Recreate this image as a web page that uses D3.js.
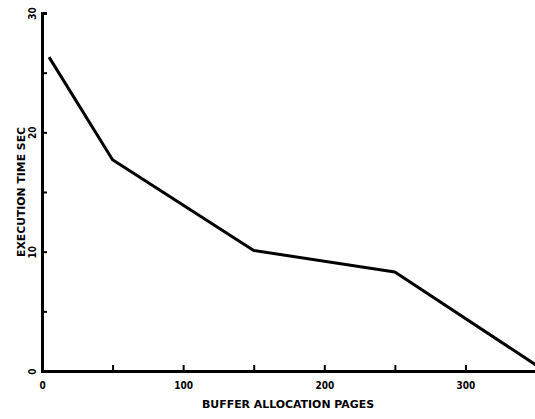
<!DOCTYPE html>
<html>
<head>
<meta charset="utf-8">
<script src="https://cdn.jsdelivr.net/npm/d3@7"></script>
<style>
  html, body { margin: 0; padding: 0; background: #fff; }
  svg { display: block; }
  text { font-family: "Liberation Sans Narrow", "DejaVu Sans Condensed", "Liberation Sans", sans-serif; font-weight: bold; fill: #000; }
</style>
</head>
<body>
<svg id="chart" width="535" height="419"></svg>
<script>
// Data
const bufferPages = [5, 50, 150, 250, 350];
const execTime = [26.3, 17.7, 10.1, 8.3, 0.5];
const xTicks = [0, 50, 100, 150, 200, 250, 300];
const xTickLabels = ["0", "", "100", "", "200", "", "300"];
const yTicks = [0, 5, 10, 15, 20, 25, 30];
const yTickLabels = ["0", "", "10", "", "20", "", "30"];
const xTitle = "BUFFER ALLOCATION PAGES";
const yTitle = "EXECUTION TIME SEC";

const svg = d3.select("#chart");
const x = d3.scaleLinear().domain([0, 350]).range([42, 536]);
const y = d3.scaleLinear().domain([0, 30]).range([371, 13]);

// X axis
const xAxis = d3.axisBottom(x)
  .tickValues(xTicks)
  .tickSize(-6)
  .tickPadding(11)
  .tickFormat((d, i) => xTickLabels[i]);
const gx = svg.append("g").attr("transform", `translate(0,${y(0)})`).call(xAxis);
gx.select(".domain").attr("stroke", "#000").attr("stroke-width", 3);
gx.selectAll(".tick line").attr("stroke", "#000").attr("stroke-width", 2);
gx.selectAll(".tick text").attr("font-size", 10).attr("fill", "#000");

// Y axis
const yAxis = d3.axisLeft(y)
  .tickValues(yTicks)
  .tickSize(-5)
  .tickFormat((d, i) => yTickLabels[i]);
const gy = svg.append("g").attr("transform", `translate(${x(0)},0)`).call(yAxis);
gy.select(".domain").attr("stroke", "#000").attr("stroke-width", 3);
gy.selectAll(".tick line").attr("stroke", "#000").attr("stroke-width", 2);
gy.selectAll(".tick text")
  .attr("x", null)
  .attr("dy", "0.35em")
  .attr("text-anchor", "middle")
  .attr("transform", "translate(-10,0) rotate(-90)")
  .attr("font-size", 10)
  .attr("fill", "#000");

// Line
const line = d3.line().x(d => x(d[0])).y(d => y(d[1]));
svg.append("path")
  .datum(bufferPages.map((p, i) => [p, execTime[i]]))
  .attr("d", line)
  .attr("fill", "none")
  .attr("stroke", "#000")
  .attr("stroke-width", 3)
  .attr("stroke-linejoin", "round");

// Titles
svg.append("text")
  .attr("x", 288).attr("y", 408)
  .attr("text-anchor", "middle")
  .attr("font-size", 11)
  .attr("textLength", 172)
  .attr("lengthAdjust", "spacingAndGlyphs")
  .text(xTitle);

svg.append("text")
  .attr("transform", "translate(21,192) rotate(-90)")
  .attr("dy", "0.35em")
  .attr("text-anchor", "middle")
  .attr("font-size", 10)
  .attr("textLength", 130)
  .attr("lengthAdjust", "spacingAndGlyphs")
  .text(yTitle);
</script>
</body>
</html>
